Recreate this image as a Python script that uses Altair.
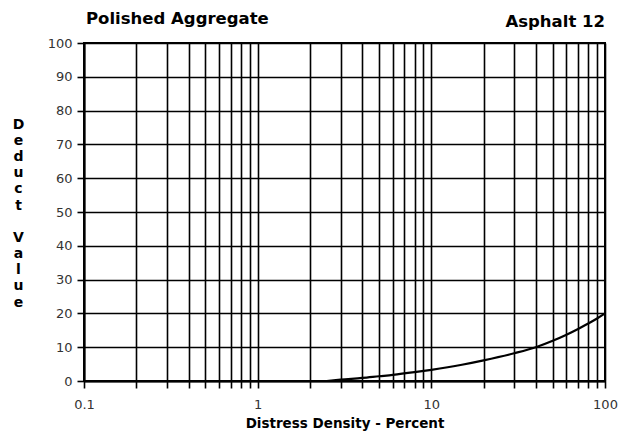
import altair as alt
import pandas as pd

# Curve
density = [2.5, 3, 4, 5, 6, 8, 10, 15, 20, 30, 40, 50, 60, 70, 80, 90, 100]
deduct = [0, 0.4, 0.9, 1.4, 1.8, 2.6, 3.3, 4.8, 6.1, 8.2, 10.0, 11.9, 13.7, 15.4, 17.0, 18.5, 20.0]

x_grid = [0.1, 0.2, 0.3, 0.4, 0.5, 0.6, 0.7, 0.8, 0.9,
          1, 2, 3, 4, 5, 6, 7, 8, 9,
          10, 20, 30, 40, 50, 60, 70, 80, 90, 100]
y_ticks = [0, 10, 20, 30, 40, 50, 60, 70, 80, 90, 100]

left_title = "Polished Aggregate"
right_title = "Asphalt 12"
x_title = "Distress Density - Percent"
y_title = ["D", "e", "d", "u", "c", "t", "\u2800", "V", "a", "l", "u", "e"]

FONT = "DejaVu Sans"
W, H = 521, 338

df = pd.DataFrame({"x": density, "y": deduct})

line = alt.Chart(df).mark_line(color="black", strokeWidth=2.2, interpolate="monotone").encode(
    x=alt.X("x:Q",
            scale=alt.Scale(type="log", domain=[0.1, 100], nice=False),
            axis=alt.Axis(values=x_grid, format="~g",
                          labelExpr="(datum.value==0.1||datum.value==1||datum.value==10||datum.value==100) ? datum.label : ''",
                          labelOverlap=False, labelFlush=False, labelPadding=10,
                          title=x_title, titlePadding=5, titleFontSize=13.5)),
    y=alt.Y("y:Q",
            scale=alt.Scale(domain=[0, 100], nice=False),
            axis=alt.Axis(values=y_ticks, title=y_title, titleAngle=0,
                          titleX=-66, titleY=81, titleAlign="center",
                          titleBaseline="middle", titleLineHeight=16.2, titleFontSize=14,
                          labelPadding=5)),
)

right_text = alt.Chart(pd.DataFrame({"t": [right_title]})).mark_text(
    font=FONT, fontSize=16.5, fontWeight="bold", align="right", baseline="alphabetic", color="black"
).encode(text="t:N", x=alt.value(W), y=alt.value(-16.3))

left_text = alt.Chart(pd.DataFrame({"t": [left_title]})).mark_text(
    font=FONT, fontSize=16.5, fontWeight="bold", align="left", baseline="alphabetic", color="black"
).encode(text="t:N", x=alt.value(2), y=alt.value(-18.6))

chart = alt.layer(line, left_text, right_text).properties(
    width=W, height=H,
    autosize=alt.AutoSizeParams(type="none"),
    padding={"left": 76, "top": 35, "right": 23, "bottom": 52},
    background="white",
).configure_axis(
    grid=True, gridColor="black", gridWidth=1.6, gridOpacity=1,
    domainColor="black", domainWidth=2,
    tickColor="black", tickWidth=1.6, tickSize=7,
    labelFont=FONT, labelFontSize=13, labelColor="#333",
    titleFont=FONT, titleFontWeight="bold", titleColor="black",
).configure_view(stroke="black", strokeWidth=2)

chart.save("out.html", embed_options={"renderer": "svg", "actions": False})
